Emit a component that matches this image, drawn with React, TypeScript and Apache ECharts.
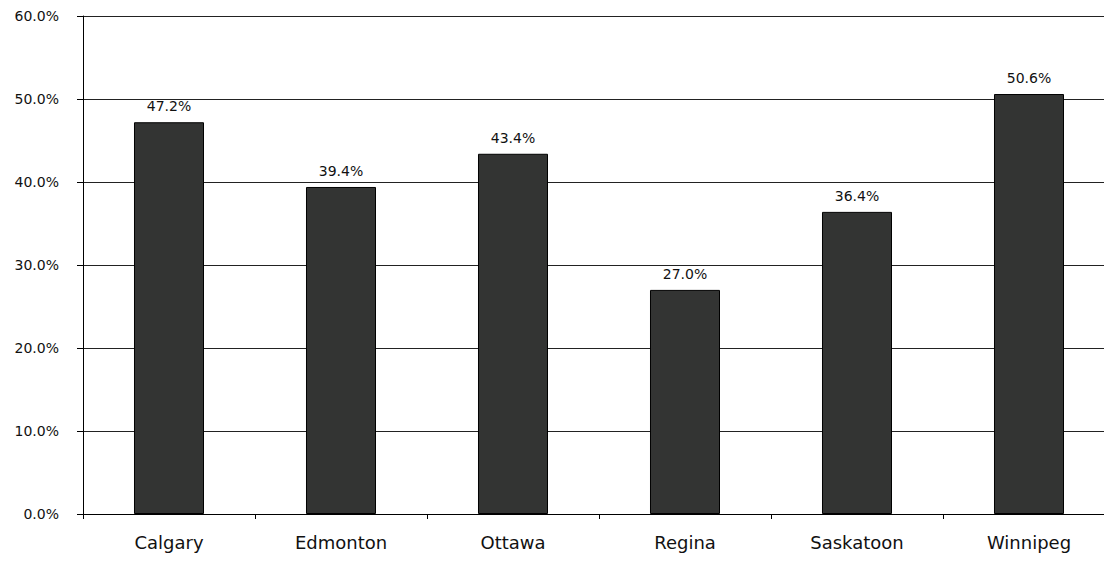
import React, { useEffect, useRef } from "react";
import * as echarts from "echarts";

const cities = ["Calgary", "Edmonton", "Ottawa", "Regina", "Saskatoon", "Winnipeg"];
const shares = [47.2, 39.4, 43.4, 27.0, 36.4, 50.6];
const yTicks = { min: 0, max: 60, interval: 10 };

const FONT = "DejaVu Sans";

export default function App() {
  const ref = useRef<HTMLDivElement>(null);

  useEffect(() => {
    if (!ref.current) return;
    const chart = echarts.init(ref.current, null, { renderer: "svg" });
    chart.setOption({
      animation: false,
      backgroundColor: "#ffffff",
      // the plot runs a little past the right edge of the view
      grid: { left: 83, top: 16, right: 0, bottom: 47, containLabel: false },
      xAxis: {
        type: "category",
        data: cities,
        axisLine: { show: true, lineStyle: { color: "#000", width: 1 } },
        axisTick: { show: true, alignWithLabel: false, length: 5, lineStyle: { color: "#000" } },
        axisLabel: { color: "#111", fontFamily: FONT, fontSize: 18, margin: 19 },
      },
      yAxis: {
        type: "value",
        min: yTicks.min,
        max: yTicks.max,
        interval: yTicks.interval,
        axisLine: { show: true, lineStyle: { color: "#000", width: 1 } },
        axisTick: { show: true, length: 6, lineStyle: { color: "#000" } },
        axisLabel: {
          color: "#111",
          fontFamily: FONT,
          fontSize: 14,
          margin: 24,
          formatter: (v: number) => v.toFixed(1) + "%",
        },
        splitLine: { show: true, lineStyle: { color: "#222", width: 1 } },
      },
      series: [
        {
          type: "bar",
          data: shares,
          barWidth: "40.7%",
          itemStyle: { color: "#333433", borderColor: "#000", borderWidth: 1 },
          label: {
            show: true,
            position: "top",
            distance: 9,
            color: "#111",
            fontFamily: FONT,
            fontSize: 14,
            formatter: (p: any) => Number(p.value).toFixed(1) + "%",
          },
        },
      ],
    });
    return () => chart.dispose();
  }, []);

  return (
    <div style={{ position: "fixed", left: 0, top: 0, width: 1104, height: 561, overflow: "hidden", background: "#fff" }}>
      <div ref={ref} style={{ width: 1115, height: 561 }} />
    </div>
  );
}
